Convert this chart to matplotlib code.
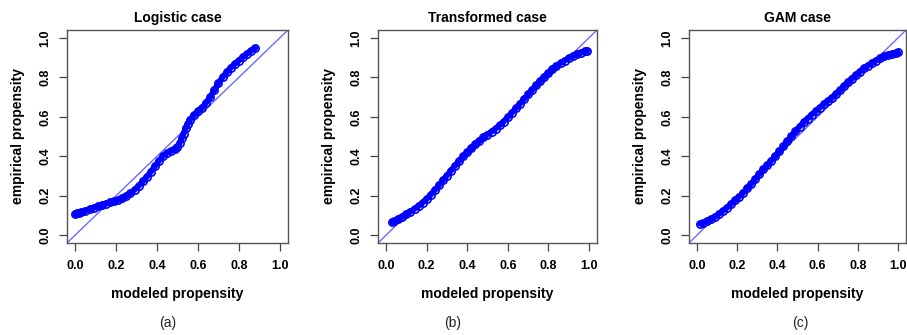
import matplotlib
matplotlib.use("Agg")
import matplotlib.pyplot as plt

# modeled vs empirical propensity
titles = ["Logistic case", "Transformed case", "GAM case"]
panel_tags = ["(a)", "(b)", "(c)"]
tick_vals = [0.0, 0.2, 0.4, 0.6, 0.8, 1.0]
tick_labels = ["0.0", "0.2", "0.4", "0.6", "0.8", "1.0"]

logit_x = [0.00, 0.01, 0.02, 0.03, 0.05, 0.07, 0.09, 0.11, 0.13, 0.15, 0.17, 0.19,
           0.21, 0.23, 0.25, 0.27, 0.29, 0.31, 0.33, 0.35, 0.37, 0.39, 0.41, 0.43,
           0.45, 0.47, 0.49, 0.50, 0.51, 0.52, 0.53, 0.54, 0.55, 0.56, 0.58, 0.60,
           0.62, 0.64, 0.66, 0.68, 0.70, 0.72, 0.74, 0.76, 0.78, 0.80, 0.82, 0.84,
           0.86, 0.88]
logit_y = [0.105, 0.110, 0.112, 0.115, 0.122, 0.130, 0.138, 0.146, 0.153, 0.160, 0.166, 0.171,
           0.177, 0.186, 0.197, 0.212, 0.230, 0.250, 0.272, 0.295, 0.322, 0.350, 0.378, 0.402,
           0.418, 0.428, 0.438, 0.448, 0.465, 0.490, 0.515, 0.542, 0.565, 0.585, 0.608, 0.628,
           0.645, 0.672, 0.700, 0.735, 0.770, 0.800, 0.825, 0.848, 0.868, 0.885, 0.903, 0.920,
           0.935, 0.948]

trans_x = [0.03, 0.04, 0.06, 0.08, 0.10, 0.12, 0.14, 0.16, 0.18, 0.20, 0.22, 0.24,
           0.26, 0.28, 0.30, 0.32, 0.34, 0.36, 0.38, 0.40, 0.42, 0.44, 0.46, 0.48,
           0.50, 0.52, 0.54, 0.56, 0.58, 0.60, 0.62, 0.64, 0.66, 0.68, 0.70, 0.72,
           0.74, 0.76, 0.78, 0.80, 0.82, 0.84, 0.86, 0.88, 0.90, 0.92, 0.94, 0.96,
           0.98, 0.99]
trans_y = [0.065, 0.070, 0.080, 0.092, 0.105, 0.119, 0.133, 0.148, 0.165, 0.183, 0.205, 0.228,
           0.252, 0.277, 0.302, 0.327, 0.352, 0.377, 0.400, 0.420, 0.440, 0.460, 0.478, 0.495,
           0.510, 0.525, 0.540, 0.557, 0.576, 0.598, 0.620, 0.643, 0.666, 0.690, 0.713, 0.737,
           0.760, 0.782, 0.802, 0.822, 0.840, 0.857, 0.872, 0.885, 0.897, 0.907, 0.916, 0.924,
           0.931, 0.935]

gam_x = [0.015, 0.03, 0.05, 0.07, 0.09, 0.11, 0.13, 0.15, 0.17, 0.19, 0.21, 0.23,
         0.25, 0.27, 0.29, 0.31, 0.33, 0.35, 0.37, 0.39, 0.41, 0.43, 0.45, 0.47,
         0.49, 0.51, 0.53, 0.55, 0.57, 0.59, 0.61, 0.63, 0.65, 0.67, 0.69, 0.71,
         0.73, 0.75, 0.77, 0.79, 0.81, 0.83, 0.85, 0.87, 0.89, 0.91, 0.93, 0.95,
         0.97, 0.99, 1.00]
gam_y = [0.058, 0.062, 0.070, 0.080, 0.093, 0.108, 0.124, 0.140, 0.158, 0.176, 0.195, 0.215,
         0.237, 0.260, 0.285, 0.310, 0.333, 0.355, 0.378, 0.400, 0.425, 0.450, 0.476, 0.502,
         0.527, 0.550, 0.571, 0.591, 0.610, 0.628, 0.646, 0.663, 0.680, 0.697, 0.715, 0.734,
         0.754, 0.774, 0.794, 0.812, 0.829, 0.845, 0.859, 0.872, 0.885, 0.896, 0.906, 0.914,
         0.920, 0.924, 0.926]

series = [(logit_x, logit_y), (trans_x, trans_y), (gam_x, gam_y)]

plt.rcParams["font.family"] = ["Liberation Sans", "DejaVu Sans"]

W, H = 907, 335
fig = plt.figure(figsize=(W / 100, H / 100), dpi=100)

# axes boxes in pixels: left, right, top, bottom
boxes = [(67, 288, 30, 243), (378, 597, 30, 243), (689, 906, 30, 243)]
tag_x = [168, 453, 800]

for i, (l, r, t, b) in enumerate(boxes):
    ax = fig.add_axes([l / W, 1 - b / H, (r - l) / W, (b - t) / H])
    xs, ys = series[i]
    ax.plot([-0.1, 1.1], [-0.1, 1.1], color="#6a6aff", lw=1.0, zorder=2)
    ax.plot(xs, ys, "-", color="#0000ff", lw=4.2, zorder=3, solid_capstyle="round")
    ax.plot(xs, ys, "o", mfc="none", mec="#0000ff", ms=5.2, mew=1.2, zorder=4)
    ax.set_xlim(-0.04, 1.04)
    ax.set_ylim(-0.04, 1.04)
    ax.set_xticks(tick_vals)
    ax.set_xticklabels(tick_labels, fontweight="bold", fontsize=9)
    ax.set_yticks(tick_vals)
    ax.set_yticklabels(tick_labels, fontweight="bold", fontsize=9,
                       rotation=90, va="center")
    ax.tick_params(axis="x", length=5.5, width=0.9, pad=7, colors="#444444",
                   labelcolor="black")
    ax.tick_params(axis="y", length=5.5, width=0.9, pad=6, colors="#444444",
                   labelcolor="black")
    for sp in ax.spines.values():
        sp.set_color("#555555")
        sp.set_linewidth(1.0)
    ax.set_title(titles[i], fontweight="bold", fontsize=10, pad=6)
    ax.set_xlabel("modeled propensity", fontweight="bold", fontsize=10, va="center")
    ax.xaxis.set_label_coords(0.5, -51 / (b - t))
    ax.set_ylabel("empirical propensity", fontweight="bold", fontsize=10, va="center")
    ax.yaxis.set_label_coords(-49 / (r - l), 0.5)
    fig.text(tag_x[i] / W, 1 - 323 / H, panel_tags[i], ha="center", va="center",
             fontsize=10, color="#222222")

fig.savefig("out.png", dpi=100)
